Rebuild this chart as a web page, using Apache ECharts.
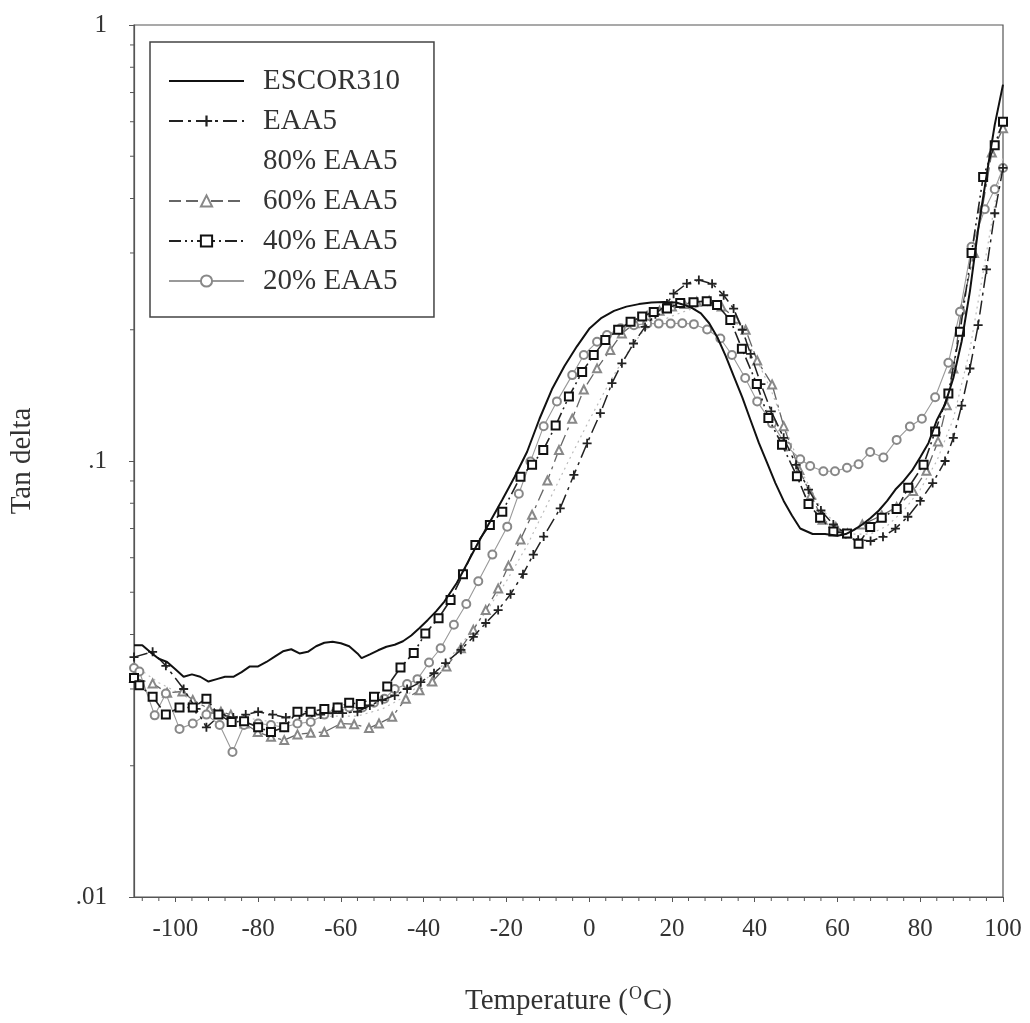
<!DOCTYPE html>
<html>
<head>
<meta charset="utf-8">
<script src="https://cdn.jsdelivr.net/npm/echarts@6/dist/echarts.min.js"></script>
<style>
html,body{margin:0;padding:0;background:#fff;}
#chart{width:1030px;height:1023px;}
</style>
</head>
<body>
<div id="chart"></div>
<script>
// ---- data ----
const seriesNames = ['ESCOR310', 'EAA5', '80% EAA5', '60% EAA5', '40% EAA5', '20% EAA5'];
const yTickLabels = ['.01', '.1', '1'];
const xTickLabels = ['-100', '-80', '-60', '-40', '-20', '0', '20', '40', '60', '80', '100'];

const escorT = [-110,-108,-106,-104,-102,-100,-98,-96,-94,-92,-90,-88,-86,-84,-82,-80,-78,-76,-74,-72,-70,-68,-66,-64,-62,-60,-58,-56,
  -55,-53,-51,-49,-47,-45,-43,-41,-39,-37,-35,
  -32,-30,-27,-24,-21,-18,-15,-12,-9,-6,-3,0,3,6,9,12,15,18,21,
  23,25,27,29,31,33,35,37,39,41,43,45,47,49,51,
  54,57,60,
  62,64,66,68,70,72,74,76,78,80,82,84,86,88,90,92,94,96,98,100];
const escorV = [.0378,.0378,.0364,.0352,.0346,.0333,.0320,.0324,.0320,.0312,.0316,.0320,.0320,.0328,.0338,.0338,.0346,.0356,.0366,.0370,.0362,.0365,.0376,.0383,.0385,.0382,.0376,.0362,
  .0353,.0360,.0368,.0375,.0379,.0386,.0398,.0414,.0432,.0452,.0476,
  .0525,.0570,.0645,.0725,.0815,.092,.105,.125,.146,.165,.183,.201,.213,.221,.226,.229,.231,.2315,.231,
  .228,.224,.218,.207,.192,.174,.156,.140,.124,.110,.099,.089,.081,.075,.070,
  .068,.068,.0674,
  .068,.0695,.0715,.074,.077,.081,.086,.090,.095,.102,.110,.124,.135,.155,.188,.245,.34,.45,.59,.73];

const eaa5T = [-110,-105.5,-102.3,-98,-95,-92.5,-89,-86,-83,-80,-76.5,-73.3,-70,-67,-64.9,-62,-59.6,-56,-53,-50,
  -47,-44,-40.7,-37.5,-34.7,-31,-28,-25,-22,-19,-16,-13.5,-11,-7,-3.7,-0.5,2.7,5.5,7.9,10.7,
  13.5,16,18.8,20.4,23.6,26.5,29.7,32.5,34.9,37,39,41.5,44,47,50,53,56,59,62,65,
  68,71,74,77,80,83,86,88,90,92,94,96,98,100];
const eaa5V = [.0355,.0365,.0339,.0300,.0270,.0245,.0262,.0258,.0262,.0266,.0262,.0258,.0262,.0265,.0262,.0264,.0264,.0266,.0275,.0283,
  .0290,.0300,.0311,.0326,.0344,.0369,.0395,.0425,.0455,.0495,.055,.061,.0671,.0779,.0929,.1098,.1287,.1508,.1675,.186,
  .203,.217,.2298,.242,.2553,.260,.255,.240,.2237,.200,.176,.150,.130,.113,.098,.086,.077,.0715,.068,.066,
  .0655,.067,.070,.0745,.081,.089,.100,.113,.134,.163,.205,.275,.37,.47];

const p80T = [-110,-104,-98,-92,-86,-80,-74,-68,-62,-56,-50,-44,-38,-34.7,-30,-25,-20,-15,-10,-5,
  0,5,10,13,16,20,24,28,32,36,40,44,48,52,56,60,64,68,72,76,80,84,88,92,96,100];
const p80V = [.034,.031,.029,.027,.026,.0255,.025,.0255,.026,.026,.027,.029,.0325,.0344,.039,.045,.053,.064,.080,.100,
  .124,.152,.182,.198,.207,.215,.222,.228,.222,.205,.175,.145,.115,.092,.078,.071,.068,.068,.071,.077,.086,.100,.125,.18,.30,.50];

const p60T = [-110,-105.5,-102,-98.3,-95.8,-91.8,-89,-86.6,-83.3,-80.1,-76.9,-73.7,-70.5,-67.3,-64,-60,-56.8,-53.2,-50.8,-47.6,
  -44.3,-41,-37.9,-34.5,-31,-28,-25,-22,-19.5,-16.6,-13.8,-10.1,-7.3,-4.1,-1.3,1.9,5.1,7.9,11,14,
  17,20,23,26,29,32,35.4,37.8,40.6,44.2,47,50.8,53.6,56.4,59.6,62.4,66,70.7,74.3,78.3,
  81.5,84.3,86.4,88,90,93,95,97.3,100];
const p60V = [.0318,.0309,.0294,.0296,.0283,.0270,.0266,.0262,.0250,.0239,.0233,.0229,.0236,.0238,.0239,.0250,.0249,.0244,.0250,.0259,
  .0285,.0298,.0312,.0338,.0372,.041,.0455,.051,.0575,.0661,.0753,.0902,.106,.125,.1459,.1631,.1797,.1962,.207,.215,
  .221,.226,.229,.232,.233,.226,.212,.200,.170,.1498,.1202,.0953,.0836,.0733,.0706,.0682,.0715,.075,.0784,.0853,
  .095,.1109,.1342,.163,.223,.30,.38,.51,.58];

const p40T = [-110,-108.7,-105.5,-102.3,-99,-95.8,-92.5,-89.6,-86.4,-83.4,-80,-76.9,-73.7,-70.5,-67.3,-64,-60.8,-58,-55.2,-52,
  -48.8,-45.6,-42.4,-39.6,-36.4,-33.5,-30.5,-27.5,-24,-21,-16.6,-13.8,-11.1,-8.1,-4.9,-1.7,1.1,3.9,7,10,
  12.8,15.6,18.8,22,25.2,28.4,30.9,34.1,36.9,40.5,43.3,46.6,50.2,53,55.8,59,62.3,65.1,67.9,70.7,
  74.3,77.1,80.8,83.6,86.8,89.6,92.4,95.2,98,100];
const p40V = [.0318,.0306,.0288,.0262,.0272,.0272,.0285,.0262,.0252,.0253,.0245,.0239,.0245,.0266,.0266,.0270,.0272,.0279,.0277,.0288,
  .0304,.0336,.0363,.0402,.0436,.048,.055,.0642,.0713,.0765,.092,.098,.106,.1206,.1405,.160,.175,.1895,.200,.2087,
  .2144,.2198,.2237,.2302,.2314,.2326,.2278,.2107,.181,.1502,.1255,.1089,.0923,.0797,.0741,.0689,.0682,.0646,.0706,.0741,
  .0776,.0868,.0980,.1168,.1429,.198,.30,.448,.53,.60];

const p20T = [-110,-108.7,-105,-102.3,-99,-95.8,-92.5,-89.3,-86.2,-83.4,-80,-76.9,-73.7,-70.5,-67.3,-64,-60.8,-58,-54.8,-52,
  -49.5,-47,-44,-41.5,-38.7,-35.9,-32.7,-29.7,-26.8,-23.4,-19.8,-17,-14.2,-11,-7.8,-4.1,-1.3,1.9,4.3,7.6,
  10.8,14,16.8,19.7,22.5,25.3,28.5,31.7,34.5,37.7,40.6,44.2,47.8,51,53.4,56.6,59.4,62.3,65.1,67.9,
  71.1,74.3,77.5,80.4,83.6,86.8,89.6,92.4,95.6,98,100];
const p20V = [.0335,.0329,.0261,.0293,.0243,.0250,.0262,.0248,.0215,.0248,.0250,.0248,.0245,.0250,.0252,.0262,.0272,.0272,.0272,.0279,
  .0285,.0300,.0308,.0316,.0345,.0372,.0421,.047,.053,.061,.0707,.0841,.0997,.1202,.137,.1574,.1751,.1877,.1946,.2016,
  .2049,.2066,.2066,.2066,.207,.206,.2003,.191,.175,.155,.137,.122,.108,.1009,.0974,.0947,.0947,.0965,.0983,.1049,
  .1019,.1118,.120,.125,.140,.168,.22,.31,.378,.42,.47];

// ---- chart ----
const FONT = 'Liberation Serif';
const AX = '#555';
const pairs = (t, v) => t.map((x, i) => [x, v[i]]);

// minor tick positions (axis decoration)
const xMinor = [];
for (let t = -108; t < 100; t += 4) { if (t % 20 !== 0) xMinor.push([t, 0.01]); }
const yMinor = [];
[0.01, 0.1].forEach(d => { for (let k = 2; k <= 9; k++) yMinor.push([-110, +(d * k).toFixed(3)]); });

const plusPath = 'path://M4,0H6V4H10V6H6V10H4V6H0V4H4Z';

const chart = echarts.init(document.getElementById('chart'), null, { renderer: 'canvas' });
chart.setOption({
  animation: false,
  backgroundColor: '#fff',
  textStyle: { fontFamily: FONT },
  grid: { left: 133, right: 27, top: 25, bottom: 126, show: true, borderColor: AX, borderWidth: 1.2 },
  legend: {
    orient: 'vertical', left: 150, top: 42,
    padding: [24, 34, 21, 18],
    borderColor: '#444', borderWidth: 1.5,
    itemWidth: 75, itemHeight: 14, itemGap: 10,
    textStyle: { fontFamily: FONT, fontSize: 29, color: '#333', lineHeight: 30, padding: [0, 0, 0, 14] },
    data: [
      { name: 'ESCOR310', itemStyle: { opacity: 0 } },
      { name: 'EAA5' },
      { name: '80% EAA5', itemStyle: { opacity: 0 }, lineStyle: { opacity: 0 } },
      { name: '60% EAA5' },
      { name: '40% EAA5' },
      { name: '20% EAA5' }
    ]
  },
  xAxis: {
    type: 'value', min: -110, max: 100, splitNumber: 11,
    axisLine: { onZero: false, lineStyle: { color: AX, width: 1.2 } },
    axisTick: { show: true, inside: false, length: 5, lineStyle: { color: AX } },
    splitLine: { show: false },
    axisLabel: {
      showMinLabel: false, margin: 20, color: '#333', fontFamily: FONT, fontSize: 25,
      formatter: v => { const i = xTickLabels.indexOf(String(Math.round(v))); return i >= 0 ? xTickLabels[i] : ''; }
    },
    name: 'Temperature ({sup|O}C)', nameLocation: 'middle', nameGap: 88,
    nameTextStyle: {
      fontFamily: FONT, fontSize: 29, color: '#333', lineHeight: 32,
      rich: { sup: { fontFamily: FONT, fontSize: 18, color: '#333', verticalAlign: 'top', lineHeight: 32, padding: [0, 1, 0, 1] } }
    }
  },
  yAxis: {
    type: 'log', logBase: 10, min: 0.01, max: 1,
    axisLine: { show: true, onZero: false, lineStyle: { color: AX, width: 1.2 } },
    axisTick: { show: true, inside: false, length: 5, lineStyle: { color: AX } },
    splitLine: { show: false },
    axisLabel: {
      margin: 27, color: '#333', fontFamily: FONT, fontSize: 25,
      formatter: v => yTickLabels[Math.round(Math.log10(v)) + 2] || ''
    },
    name: 'Tan delta', nameLocation: 'middle', nameRotate: 90, nameGap: 97,
    nameTextStyle: { fontFamily: FONT, fontSize: 29, color: '#333' }
  },
  series: [
    {
      name: 'ESCOR310', type: 'line', data: pairs(escorT, escorV), symbol: 'none',
      lineStyle: { color: '#111', width: 2 }, itemStyle: { color: '#111' }, z: 6
    },
    {
      name: 'EAA5', type: 'line', data: pairs(eaa5T, eaa5V), symbol: plusPath, symbolSize: 9,
      lineStyle: { color: '#222', width: 1.5, type: [14, 5, 3, 5] }, itemStyle: { color: '#222' }, z: 4
    },
    {
      name: '80% EAA5', type: 'line', data: pairs(p80T, p80V), symbol: 'none',
      lineStyle: { color: '#bbb', width: 1.2, type: [2, 4] }, itemStyle: { color: '#bbb' }, z: 2
    },
    {
      name: '60% EAA5', type: 'line', data: pairs(p60T, p60V), symbol: 'emptyTriangle', symbolSize: 8,
      lineStyle: { color: '#666', width: 1.3, type: [12, 5, 12, 5, 3, 5] },
      itemStyle: { color: '#888', borderColor: '#888', borderWidth: 1.2 }, z: 3
    },
    {
      name: '40% EAA5', type: 'line', data: pairs(p40T, p40V), symbol: 'emptyRect', symbolSize: 8,
      lineStyle: { color: '#222', width: 1.6, type: [12, 4, 2, 4, 2, 4] },
      itemStyle: { color: '#111', borderColor: '#111', borderWidth: 2 }, z: 5
    },
    {
      name: '20% EAA5', type: 'line', data: pairs(p20T, p20V), symbol: 'emptyCircle', symbolSize: 8,
      lineStyle: { color: '#999', width: 1.1 },
      itemStyle: { color: '#888', borderColor: '#888', borderWidth: 1.4 }, z: 3
    },
    {
      type: 'custom', silent: true, clip: false, z: 10, data: xMinor,
      renderItem: (p, api) => {
        const c = api.coord([api.value(0), api.value(1)]);
        return { type: 'line', shape: { x1: c[0], y1: c[1], x2: c[0], y2: c[1] + 4 }, style: { stroke: AX, lineWidth: 1 } };
      }
    },
    {
      type: 'custom', silent: true, clip: false, z: 10, data: yMinor,
      renderItem: (p, api) => {
        const c = api.coord([api.value(0), api.value(1)]);
        return { type: 'line', shape: { x1: c[0] - 4, y1: c[1], x2: c[0], y2: c[1] }, style: { stroke: AX, lineWidth: 1 } };
      }
    }
  ]
});
</script>
</body>
</html>
